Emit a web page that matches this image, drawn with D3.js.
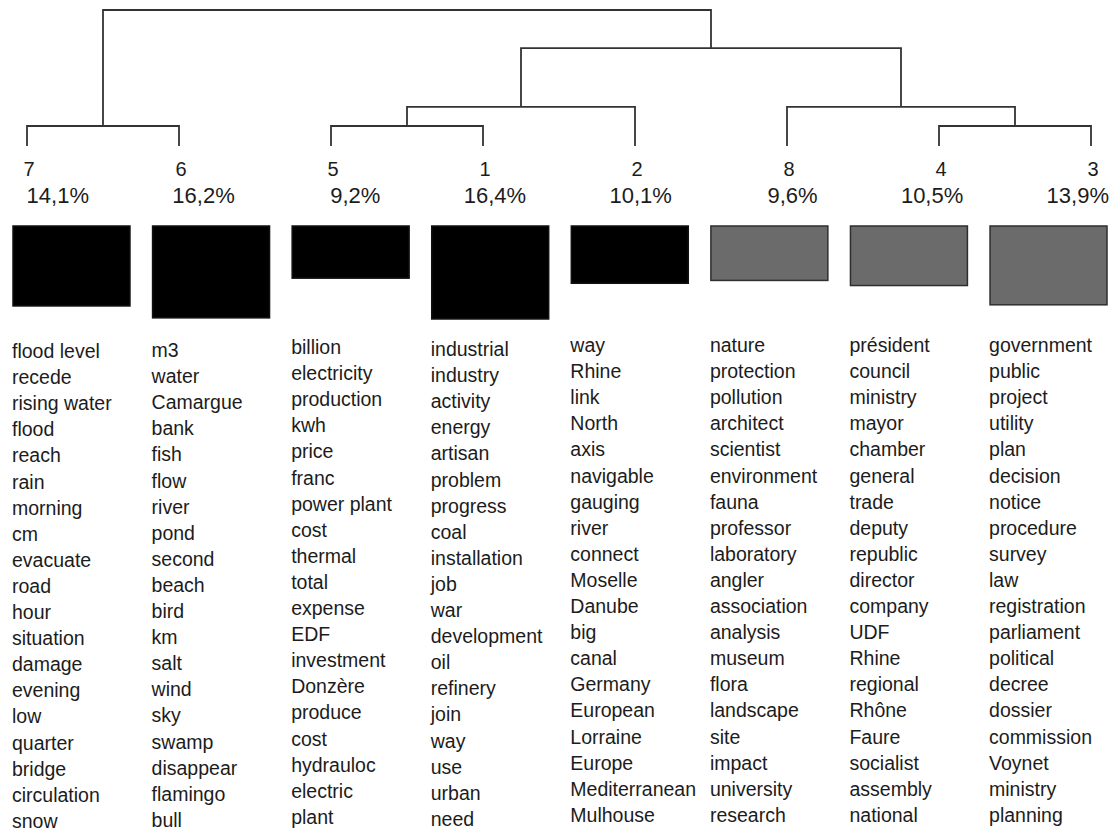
<!DOCTYPE html>
<html lang="en">
<head>
  <meta charset="UTF-8">
  <title>Class dendrogram</title>
  <script src="https://d3js.org/d3.v7.min.js"></script>
  <style>
    body, html {
      margin: 0;
      padding: 0;
      background: #fff;
      overflow: hidden;
    }
    svg text {
      font-family: "Liberation Sans", Arial, sans-serif;
      fill: #1c1c1c;
    }
  </style>
</head>
<body>
  <svg width="1116" height="832"></svg>
  <script>
    // Classes in the order they appear under the tree
    const classes = ['7', '6', '5', '1', '2', '8', '4', '3'];
    const percents = [14.1, 16.2, 9.2, 16.4, 10.1, 9.6, 10.5, 13.9];
    const groups = ['A', 'A', 'A', 'A', 'A', 'B', 'B', 'B'];

    // Merge heights (0 = leaf, 100 = root)
    const clusterTree = {
      h: 100, children: [
        { h: 14.7, children: [{ name: '7', h: 0 }, { name: '6', h: 0 }] },
        { h: 72, children: [
          { h: 28.7, children: [
            { h: 14.7, children: [{ name: '5', h: 0 }, { name: '1', h: 0 }] },
            { name: '2', h: 0 }
          ] },
          { h: 28.7, children: [
            { name: '8', h: 0 },
            { h: 14.7, children: [{ name: '4', h: 0 }, { name: '3', h: 0 }] }
          ] }
        ] }
      ]
    };

    const words7 = ['flood level', 'recede', 'rising water', 'flood', 'reach', 'rain', 'morning', 'cm', 'evacuate', 'road', 'hour', 'situation', 'damage', 'evening', 'low', 'quarter', 'bridge', 'circulation', 'snow'];
    const words6 = ['m3', 'water', 'Camargue', 'bank', 'fish', 'flow', 'river', 'pond', 'second', 'beach', 'bird', 'km', 'salt', 'wind', 'sky', 'swamp', 'disappear', 'flamingo', 'bull'];
    const words5 = ['billion', 'electricity', 'production', 'kwh', 'price', 'franc', 'power plant', 'cost', 'thermal', 'total', 'expense', 'EDF', 'investment', 'Donzère', 'produce', 'cost', 'hydrauloc', 'electric', 'plant'];
    const words1 = ['industrial', 'industry', 'activity', 'energy', 'artisan', 'problem', 'progress', 'coal', 'installation', 'job', 'war', 'development', 'oil', 'refinery', 'join', 'way', 'use', 'urban', 'need'];
    const words2 = ['way', 'Rhine', 'link', 'North', 'axis', 'navigable', 'gauging', 'river', 'connect', 'Moselle', 'Danube', 'big', 'canal', 'Germany', 'European', 'Lorraine', 'Europe', 'Mediterranean', 'Mulhouse'];
    const words8 = ['nature', 'protection', 'pollution', 'architect', 'scientist', 'environment', 'fauna', 'professor', 'laboratory', 'angler', 'association', 'analysis', 'museum', 'flora', 'landscape', 'site', 'impact', 'university', 'research'];
    const words4 = ['président', 'council', 'ministry', 'mayor', 'chamber', 'general', 'trade', 'deputy', 'republic', 'director', 'company', 'UDF', 'Rhine', 'regional', 'Rhône', 'Faure', 'socialist', 'assembly', 'national'];
    const words3 = ['government', 'public', 'project', 'utility', 'plan', 'decision', 'notice', 'procedure', 'survey', 'law', 'registration', 'parliament', 'political', 'decree', 'dossier', 'commission', 'Voynet', 'ministry', 'planning'];

    const wordLists = [words7, words6, words5, words1, words2, words8, words4, words3];

    const svg = d3.select('svg');

    // Scales
    const leafX = d3.scalePoint().domain(classes).range([27, 1091]);
    const treeY = d3.scaleLinear().domain([0, 100]).range([146, 10]);
    const pctX = d3.scalePoint().domain(classes).range([89, 1109]);
    const band = d3.scaleBand().domain(classes).range([13, 1107]).paddingInner(0.162).paddingOuter(0);
    const boxH = d3.scaleLinear().domain([0, 20]).range([0, 113.4]);
    const fill = d3.scaleOrdinal().domain(['A', 'B']).range(['#000000', '#6b6b6b']);
    const edge = d3.scaleOrdinal().domain(['A', 'B']).range(['#111', '#2e2e2e']);

    // Dendrogram layout: leaf x from the point scale, parent x = middle of children
    const root = d3.hierarchy(clusterTree);
    root.eachAfter(n => {
      if (n.children) {
        n.x = d3.mean(n.children, c => c.x);
      } else {
        n.x = leafX(n.data.name);
      }
      n.y = treeY(n.data.h);
    });

    const links = [];
    root.each(n => {
      if (!n.children) return;
      const [a, b] = n.children;
      links.push(`M${a.x},${a.y}V${n.y}H${b.x}V${b.y}`);
    });

    svg.append('g')
      .selectAll('path')
      .data(links)
      .join('path')
      .attr('d', d => d)
      .attr('fill', 'none')
      .attr('stroke', '#333')
      .attr('stroke-width', 1.8);

    const rows = classes.map((c, i) => ({ c, pct: percents[i], grp: groups[i], words: wordLists[i] }));

    // Class numbers
    svg.append('g')
      .selectAll('text')
      .data(rows)
      .join('text')
      .attr('x', d => leafX(d.c) + 2)
      .attr('y', 176)
      .attr('text-anchor', 'middle')
      .style('font-size', '20px')
      .text(d => d.c);

    // Percentages
    svg.append('g')
      .selectAll('text')
      .data(rows)
      .join('text')
      .attr('x', d => pctX(d.c))
      .attr('y', 203)
      .attr('text-anchor', 'end')
      .style('font-size', '22px')
      .text(d => d3.format('.1f')(d.pct).replace('.', ',') + '%');

    // Boxes, height from the share of the class
    svg.append('g')
      .selectAll('rect')
      .data(rows)
      .join('rect')
      .attr('x', d => band(d.c))
      .attr('y', 226)
      .attr('width', band.bandwidth())
      .attr('height', d => boxH(d.pct))
      .attr('fill', d => fill(d.grp))
      .attr('stroke', d => edge(d.grp))
      .attr('stroke-width', 1.5);

    // Word lists
    const startY = [358, 357, 354, 356, 352, 352, 352, 352];
    const lineH = 26.1;
    const cols = svg.append('g')
      .selectAll('g')
      .data(rows)
      .join('g')
      .attr('transform', (d, i) => `translate(${band(d.c) - 1},${startY[i]})`);

    cols.selectAll('text')
      .data(d => d.words)
      .join('text')
      .attr('x', 0)
      .attr('y', (d, i) => i * lineH)
      .style('font-size', '19.5px')
      .text(d => d);
  </script>
</body>
</html>
